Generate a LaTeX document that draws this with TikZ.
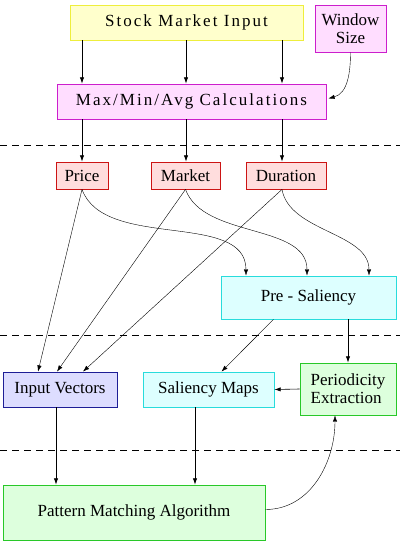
\documentclass[tikz,border=0pt]{standalone}
\usepackage{fontspec}
\setmainfont{Liberation Serif}
\newfontfamily\widefont[LetterSpace=12]{Liberation Serif}
\usetikzlibrary{arrows.meta, positioning, calc}
\definecolor{boxyellow}{RGB}{255,255,204}
\definecolor{lineyellow}{RGB}{238,238,60}
\definecolor{boxpink}{RGB}{255,221,255}
\definecolor{linepink}{RGB}{204,30,204}
\definecolor{boxred}{RGB}{255,221,221}
\definecolor{linered}{RGB}{204,20,20}
\definecolor{boxcyan}{RGB}{221,255,255}
\definecolor{linecyan}{RGB}{40,220,220}
\definecolor{boxblue}{RGB}{221,221,255}
\definecolor{lineblue}{RGB}{30,30,150}
\definecolor{boxgreen}{RGB}{221,255,221}
\definecolor{linegreen}{RGB}{40,200,40}

\begin{document}
\begin{tikzpicture}[
    x=1pt, y=-1pt,
    block/.style={rectangle, draw, line width=0.8pt, inner sep=0pt, align=center,
                  font=\fontsize{17}{18}\selectfont},
    arrow/.style={-{Latex[length=2.2mm, width=1.5mm]}, line width=0.6pt},
    thin arrow/.style={-{Latex[length=2.2mm, width=1.5mm]}, line width=0.4pt},
    divider/.style={line width=0.6pt, dash pattern=on 7pt off 5pt}
]
    \useasboundingbox (0,0) rectangle (400,542);
    % top row
    \node[block, fill=boxyellow, draw=lineyellow, minimum width=233pt, minimum height=35pt,
          font=\widefont\fontsize{17}{18}\selectfont] (stock) at (186.5,22.5) {Stock Market Input};
    \node[block, fill=boxpink, draw=linepink, minimum width=71pt, minimum height=47pt] (window) at (350.5,28.5) {Window\\Size};
    \node[block, fill=boxpink, draw=linepink, minimum width=269pt, minimum height=35pt,
          font=\widefont\fontsize{17}{18}\selectfont] (calc) at (191.5,101.5) {Max/Min/Avg Calculations};
    % measures
    \node[block, fill=boxred, draw=linered, minimum width=52pt, minimum height=27pt] (price) at (82,175.5) {Price};
    \node[block, fill=boxred, draw=linered, minimum width=69pt, minimum height=27pt] (market) at (185.5,175.5) {Market};
    \node[block, fill=boxred, draw=linered, minimum width=80pt, minimum height=27pt] (duration) at (286,175.5) {Duration};
    \node[block, fill=boxcyan, draw=linecyan, minimum width=175pt, minimum height=43pt] (presal) at (308.5,297.5) {Pre - Saliency};
    % lower row
    \node[block, fill=boxblue, draw=lineblue, minimum width=114pt, minimum height=35pt] (input) at (60,389.5) {Input Vectors};
    \node[block, fill=boxcyan, draw=linecyan, minimum width=131pt, minimum height=35pt] (salmap) at (208.5,389.5) {Saliency Maps};
    \node[block, fill=boxgreen, draw=linegreen, minimum width=96pt, minimum height=52pt, align=left] (period) at (348,389) {Periodicity\\Extraction};
    \node[block, fill=boxgreen, draw=linegreen, minimum width=262pt, minimum height=55pt] (pattern) at (134,512.5) {Pattern Matching Algorithm};
    % dividers
    \draw[divider] (0,145) -- (400,145);
    \draw[divider] (0,335) -- (400,335);
    \draw[divider] (0,450) -- (400,450);
    % arrows
    \draw[arrow] (stock.south -| 82,0) -- (calc.north -| 82,0);
    \draw[arrow] (stock.south -| 186,0) -- (calc.north -| 186,0);
    \draw[arrow] (stock.south -| 282,0) -- (calc.north -| 282,0);
    \draw[thin arrow] (window.south) to[out=-90, in=15] ($(calc.east)+(2,-3)$);
    \draw[arrow] (calc.south -| 82,0) -- (price.north -| 82,0);
    \draw[arrow] (calc.south -| 186,0) -- (market.north -| 186,0);
    \draw[arrow] (calc.south -| 282,0) -- (duration.north -| 282,0);
    \draw[thin arrow] (price.south) -- ($(input.north)+(-22,0)$);
    \draw[thin arrow] (market.south) -- ($(input.north)+(-3,0)$);
    \draw[thin arrow] (duration.south -| 282,0) -- ($(input.north)+(23,0)$);
    \draw[thin arrow] (price.south) to[out=-70, in=90, looseness=0.9] ($(presal.north)+(-62.5,0)$);
    \draw[thin arrow] (market.south) to[out=-70, in=90, looseness=0.9] ($(presal.north)+(-1.5,0)$);
    \draw[thin arrow] (duration.south -| 282,0) to[out=-80, in=90, looseness=0.9] ($(presal.north)+(60.5,0)$);
    \draw[thin arrow] ($(presal.south)+(-35,0)$) -- ($(salmap.north)+(13,0)$);
    \draw[arrow] (presal.south -| period) -- (period.north);
    \draw[arrow] (period.west) -- (salmap.east);
    \draw[arrow] (input.south -| 56,0) -- (pattern.north -| 56,0);
    \draw[arrow] (salmap.south -| 195,0) -- (pattern.north -| 195,0);
    \draw[thin arrow] ($(pattern.east)+(0,-3)$) to[out=0, in=-90] ($(period.south)+(-13,0)$);
\end{tikzpicture}
\end{document}
